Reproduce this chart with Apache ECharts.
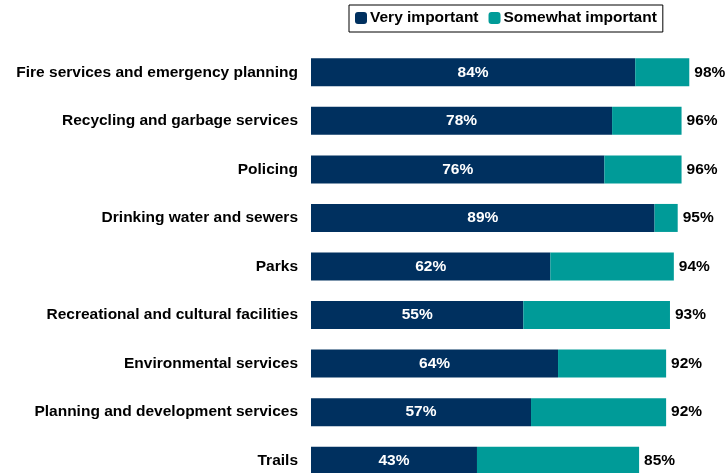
<!DOCTYPE html>
<html>
<head>
<meta charset="utf-8">
<script src="https://cdn.jsdelivr.net/npm/echarts@6/dist/echarts.min.js"></script>
<style>
  html, body { margin: 0; padding: 0; background: #fff; overflow: hidden; }
  body { width: 725px; height: 473px; }
  /* the last row runs past the bottom edge of the page */
  #chart { width: 725px; height: 492px; }
</style>
</head>
<body>
<div id="chart"></div>
<script>
// Service areas, listed top to bottom
const categories = [
  'Fire services and emergency planning',
  'Recycling and garbage services',
  'Policing',
  'Drinking water and sewers',
  'Parks',
  'Recreational and cultural facilities',
  'Environmental services',
  'Planning and development services',
  'Trails'
];
// Share rating each service "very important" (%)
const veryImportant = [84, 78, 76, 89, 62, 55, 64, 57, 43];
// Total share rating it important at all (very + somewhat, %)
const totalImportant = [98, 96, 96, 95, 94, 93, 92, 92, 85];
// Share rating it "somewhat important" (%)
const somewhatImportant = totalImportant.map((t, i) => t - veryImportant[i]);

const NAVY = '#00305f';
const TEAL = '#009b98';
const FONT = 'Liberation Sans, Arial, sans-serif';
const FS = 15.5;

const chart = echarts.init(document.getElementById('chart'));
chart.setOption({
  animation: false,
  textStyle: { fontFamily: FONT },
  legend: {
    top: 5,
    left: 349,
    itemWidth: 12,
    itemHeight: 12,
    itemGap: 10,
    padding: [5, 6, 6, 6],
    borderColor: '#000',
    borderWidth: 1,
    borderRadius: 0,
    textStyle: { fontFamily: FONT, fontSize: FS, fontWeight: 'bold', color: '#000', padding: [0, 0, 0, -2] },
    data: ['Very important', 'Somewhat important']
  },
  grid: {
    left: 311,
    width: 386,
    top: 48,
    height: 437
  },
  xAxis: {
    type: 'value',
    min: 0,
    max: 100,
    show: false
  },
  yAxis: {
    type: 'category',
    inverse: true,
    data: categories,
    axisLine: { show: false },
    axisTick: { show: false },
    axisLabel: {
      margin: 13,
      fontFamily: FONT,
      fontSize: FS,
      fontWeight: 'bold',
      color: '#000'
    }
  },
  series: [
    {
      name: 'Very important',
      type: 'bar',
      stack: 'imp',
      barWidth: 28,
      itemStyle: { color: NAVY },
      label: {
        show: true,
        position: 'inside',
        formatter: p => p.value + '%',
        fontFamily: FONT,
        fontSize: FS,
        fontWeight: 'bold',
        color: '#fff'
      },
      data: veryImportant
    },
    {
      name: 'Somewhat important',
      type: 'bar',
      stack: 'imp',
      barWidth: 28,
      itemStyle: { color: TEAL },
      label: {
        show: true,
        position: 'right',
        distance: 5,
        formatter: p => totalImportant[p.dataIndex] + '%',
        fontFamily: FONT,
        fontSize: FS,
        fontWeight: 'bold',
        color: '#000'
      },
      data: somewhatImportant
    }
  ]
});
</script>
</body>
</html>
